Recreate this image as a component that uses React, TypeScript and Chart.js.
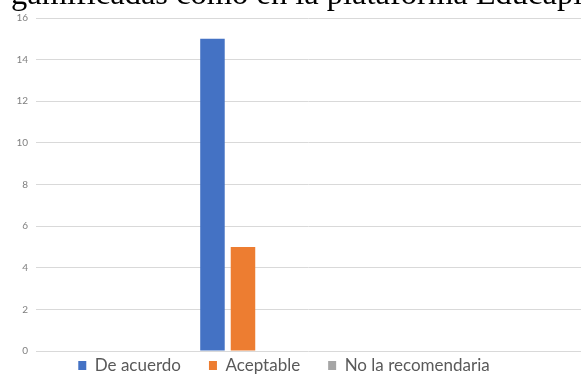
import React, { useEffect, useRef } from 'react';
import { Chart, registerables } from 'chart.js';

Chart.register(...registerables);

// ---- data ----
const seriesLabels = ['De acuerdo', 'Aceptable', 'No la recomendaria'];
const seriesValues = [15, 5, 0];
const seriesColors = ['#4472C4', '#ED7D31', '#A5A5A5'];
const yTickValues = [0, 2, 4, 6, 8, 10, 12, 14, 16];
const titleText = 'gamificadas como en la plataforma Educaplay';
const groupPosition = 1; // the single (unlabelled) category on the x axis
const xRange = [0, 2.633];

export default function App() {
  const canvasRef = useRef<HTMLCanvasElement>(null);

  useEffect(() => {
    const canvas = canvasRef.current;
    if (!canvas) return;
    const chart = new Chart(canvas, {
      type: 'bar',
      data: {
        datasets: seriesLabels.map((label, i) => ({
          label,
          data: [{ x: groupPosition, y: seriesValues[i] }],
          backgroundColor: seriesColors[i],
          borderWidth: 0,
          categoryPercentage: 0.168,
          barPercentage: 0.803,
        })),
      },
      options: {
        animation: false,
        responsive: false,
        maintainAspectRatio: false,
        layout: { padding: { top: 18, left: -13, right: 0, bottom: 0 } },
        scales: {
          x: {
            type: 'linear',
            display: false,
            offset: false,
            bounds: 'data',
            min: xRange[0],
            max: xRange[1],
            afterBuildTicks: (s: any) => {
              s.ticks = xRange.map((v) => ({ value: v }));
            },
          },
          y: {
            min: 0,
            max: 16,
            afterBuildTicks: (s: any) => {
              s.ticks = yTickValues.map((v) => ({ value: v }));
            },
            afterFit: (s: any) => {
              s.width = 49;
            },
            ticks: {
              padding: 8,
              color: '#7f7f7f',
              font: { family: 'Lato', size: 10 },
            },
            grid: { color: '#d9d9d9', drawTicks: false, lineWidth: 1 },
            border: { display: false },
          },
        },
        plugins: {
          tooltip: { enabled: false },
          legend: {
            position: 'bottom',
            maxHeight: 23,
            title: {
              display: true,
              text: '',
              padding: { top: -34, bottom: 0 },
              font: { size: 10 },
            },
            labels: {
              boxWidth: 8,
              boxHeight: 9,
              padding: 28,
              color: '#595959',
              font: { family: 'Lato', size: 17 },
            },
          },
        },
      },
    } as any);
    return () => chart.destroy();
  }, []);

  return (
    <div
      style={{
        position: 'fixed',
        left: 0,
        top: 0,
        width: 581,
        height: 374,
        overflow: 'hidden',
        background: '#ffffff',
      }}
    >
      <canvas ref={canvasRef} width={581} height={374} style={{ display: 'block' }} />
      <div
        style={{
          position: 'absolute',
          left: 11,
          top: -23,
          whiteSpace: 'nowrap',
          fontFamily: '"Liberation Serif", "Times New Roman", serif',
          fontSize: 32.5,
          lineHeight: '32px',
          color: '#000',
        }}
      >
        {titleText}
      </div>
    </div>
  );
}
